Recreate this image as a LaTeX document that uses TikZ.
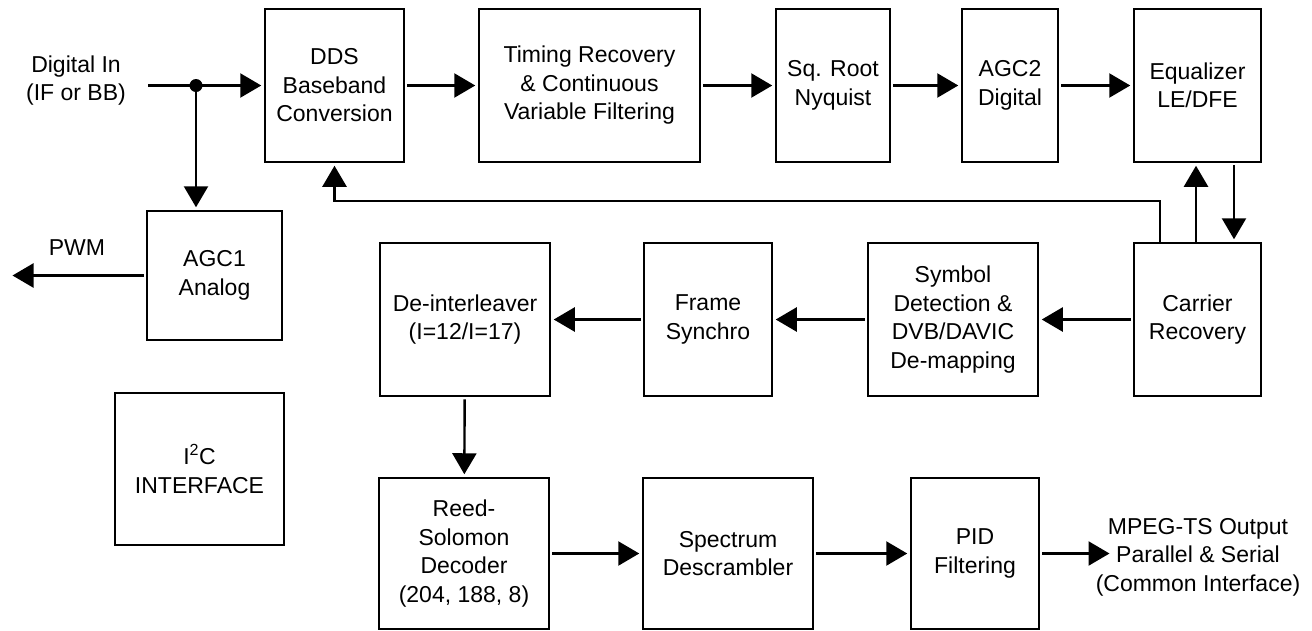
\documentclass[tikz,border=0pt]{standalone}
\usepackage{fontspec}
\setmainfont{Liberation Sans}
\usetikzlibrary{arrows.meta}
\begin{document}
\begin{tikzpicture}[x=1pt,y=-1pt,
  every node/.style={font=\fontsize{23}{28.5}\selectfont, align=center, inner sep=0pt},
  blk/.style={draw, line width=2.5pt, minimum height=153pt},
  arr/.style={line width=2.4pt, -{Triangle[length=21pt,width=24pt]}, shorten >=2.5pt, shorten <=2pt},
  plain/.style={line width=2.4pt}]
\useasboundingbox (0,0) rectangle (1312,630);
% top row
\node[blk, minimum width=139pt] (dds) at (334.5,85.5) {DDS\\Baseband\\Conversion};
\node[blk, minimum width=221pt] (tim) at (589.5,85.5) {Timing Recovery\\\& Continuous\\Variable Filtering};
\node[blk, minimum width=114pt] (sqr) at (833,85.5) {Sq. Root\\Nyquist};
\node[blk, minimum width=96pt] (agc2) at (1010,85.5) {AGC2\\Digital};
\node[blk, minimum width=127pt] (eq) at (1197.5,85.5) {Equalizer\\LE/DFE};
% middle row
\node[blk, minimum width=135pt, minimum height=129pt] (agc1) at (214.5,275.5) {AGC1\\Analog};
\node[blk, minimum width=127pt] (car) at (1197.5,319.5) {Carrier\\Recovery};
\node[blk, minimum width=170pt] (sym) at (953,319.5) {Symbol\\Detection \&\\DVB/DAVIC\\De-mapping};
\node[blk, minimum width=128pt] (frm) at (708,319.5) {Frame\\Synchro};
\node[blk, minimum width=170pt] (dei) at (465,319.5) {De-interleaver\\(I=12/I=17)};
% bottom row
\node[blk, minimum width=169pt, minimum height=152pt] (i2c) at (199.5,469) {I\textsuperscript{2}C\\INTERFACE};
\node[blk, minimum width=170pt, minimum height=151pt] (rs) at (464,553.5) {Reed-\\Solomon\\Decoder\\(204, 188, 8)};
\node[blk, minimum width=170pt, minimum height=151pt] (spec) at (728,553.5) {Spectrum\\Descrambler};
\node[blk, minimum width=128pt, minimum height=151pt] (pid) at (975,553.5) {PID\\Filtering};
% labels
\node (inlbl) at (76,80.5) {Digital In\\(IF or BB)};
\node (pwmlbl) at (77,248) {PWM};
\node (outlbl) at (1198,557) {MPEG-TS Output\\Parallel \& Serial\\(Common Interface)};
% coordinates
\coordinate (din) at (148,85.5);
\coordinate (j) at (196,85.5);
\coordinate (pwm) at (10,275.5);
\coordinate (xd) at (1234,0);
\coordinate (xu) at (1196,0);
\coordinate (xf) at (1160,0);
\coordinate (fb) at (1160,201);
\coordinate (out) at (1112,553.5);
% connectors
\draw[arr, shorten <=0pt] (din) -- (dds.west);
\fill (j) circle (6.5);
\draw[arr, shorten <=0pt] (j) -- (j |- agc1.north);
\draw[arr] (agc1.west) -- (pwm);
\draw[arr] (dds) -- (tim);
\draw[arr] (tim) -- (sqr);
\draw[arr] (sqr) -- (agc2);
\draw[arr] (agc2) -- (eq);
\draw[arr] (xd |- eq.south) -- (xd |- car.north);
\draw[arr, shorten <=0pt] (xu |- car.north) -- (xu |- eq.south);
\draw[arr, shorten <=0pt] (xf |- car.north) -- (fb) -| (dds.south);
\draw[arr] (car) -- (sym);
\draw[arr] (sym) -- (frm);
\draw[arr] (frm) -- (dei);
\draw[arr] (dei) -- (rs);
\draw[arr] (rs) -- (spec);
\draw[arr] (spec) -- (pid);
\draw[arr] (pid.east) -- (out);
\end{tikzpicture}
\end{document}
